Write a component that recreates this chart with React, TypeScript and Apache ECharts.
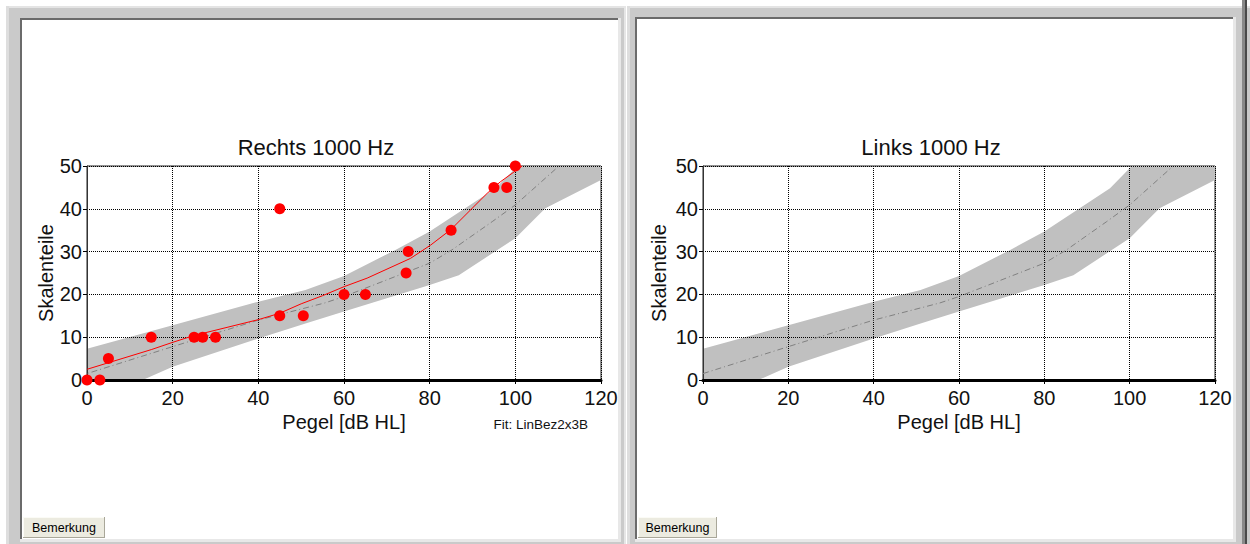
import React, { useEffect, useRef } from "react";
import * as echarts from "echarts";

// ---------- data ----------
const xMin = 0;
const xMax = 120;
const xStep = 20;
const yMin = 0;
const yMax = 50;
const yStep = 10;

// normal range band (grey), upper and lower edges
const bandUpperX = [0, 20, 40, 51, 60, 72, 80, 95.4, 100.5, 120];
const bandUpperY = [7.3, 12.8, 18.3, 21.0, 24.3, 30.4, 34.7, 44.8, 50, 50];
const bandLowerX = [0, 13, 20, 40, 51, 60, 80, 86.8, 100, 107, 120];
const bandLowerY = [0, 0, 3.1, 9.7, 13.2, 16.0, 22.2, 24.5, 33.1, 40.1, 46.7];

// reference (median) curve, grey dash-dot
const refX = [0, 20, 40, 55.5, 60, 80, 85.2, 94.6, 100, 110.2];
const refY = [1.5, 7.8, 14.0, 18.0, 19.5, 27.3, 30.4, 37.0, 40.9, 50];
const refLeftStartX = -4.7;
const refLeftStartY = -0.1;

// fitted curve (red) – right ear
const fitX = [0, 15, 20, 25, 40, 45, 50, 55, 60, 65.4, 75.5, 80.2, 85, 93.4, 96.5, 101.6];
const fitY = [2.5, 7.1, 8.8, 10.4, 14.1, 15.6, 17.8, 19.7, 21.8, 23.8, 28.4, 31.5, 35.2, 43.6, 46.3, 50];

// measured points – right ear
const ptsX = [0, 3, 5, 15, 25, 27, 30, 45, 45, 50.5, 60, 65, 74.5, 75, 85, 95, 98, 100];
const ptsY = [0, 0, 5, 10, 10, 10, 10, 40, 15, 15, 20, 20, 25, 30, 35, 45, 45, 50];

const titles = ["Rechts 1000 Hz", "Links 1000 Hz"];
const xName = "Pegel [dB HL]";
const yName = "Skalenteile";
const fitLabel = "Fit: LinBez2x3B";
const buttonLabel = "Bemerkung";

// ---------- helpers ----------
const FONT = '"Liberation Sans", Arial, sans-serif';
const TXT = "#111";
const zip = (xs: number[], ys: number[]) => xs.map((x, i) => [x, ys[i]]);

const bandRender = (_params: any, api: any) => {
  const pts: number[][] = [];
  for (let i = 0; i < bandUpperX.length; i++) pts.push(api.coord([bandUpperX[i], bandUpperY[i]]));
  for (let i = bandLowerX.length - 1; i >= 0; i--) pts.push(api.coord([bandLowerX[i], bandLowerY[i]]));
  return { type: "polygon", shape: { points: pts }, style: { fill: "#c0c0c0" } };
};

const xAxisFor = (gridIndex: number) => ({
  gridIndex,
  type: "value",
  min: xMin,
  max: xMax,
  interval: xStep,
  z: 2,
  axisLine: { show: true, onZero: false, lineStyle: { color: "#000", width: 3 } },
  axisTick: { show: true, length: 4, lineStyle: { color: "#000", width: 1 } },
  axisLabel: { color: TXT, fontSize: 20, fontFamily: FONT, margin: 8 },
  splitLine: { show: true, lineStyle: { color: "#000", width: 1, type: [1, 1] } },
  name: xName,
  nameLocation: "middle",
  nameGap: 42,
  nameTextStyle: { color: TXT, fontSize: 20, fontFamily: FONT, verticalAlign: "middle" },
});

const yAxisFor = (gridIndex: number, gap: number) => ({
  gridIndex,
  type: "value",
  min: yMin,
  max: yMax,
  interval: yStep,
  z: 2,
  axisLine: { show: true, onZero: false, lineStyle: { color: "#333", width: 1 } },
  axisTick: { show: true, length: 4, lineStyle: { color: "#000", width: 1 } },
  axisLabel: { color: TXT, fontSize: 20, fontFamily: FONT, margin: 5 },
  splitLine: { show: true, lineStyle: { color: "#000", width: 1, type: [1, 1] } },
  name: yName,
  nameLocation: "middle",
  nameGap: gap,
  nameTextStyle: { color: TXT, fontSize: 20, fontFamily: FONT, verticalAlign: "middle" },
});

const panel = (x0: number, wx: number, whiteX: number, whiteY: number, whiteW: number, whiteH: number) => [
  { type: "rect", z: -20, silent: true, shape: { x: x0, y: 6, width: wx, height: 538 }, style: { fill: "#cacaca" } },
  { type: "rect", z: -19, silent: true, shape: { x: x0, y: 6, width: wx, height: 2 }, style: { fill: "#e4e4e4" } },
  { type: "rect", z: -19, silent: true, shape: { x: x0, y: 6, width: 3, height: 538 }, style: { fill: "#dedede" } },
  { type: "rect", z: -18, silent: true, shape: { x: whiteX - 2, y: whiteY - 2, width: whiteW + 5, height: whiteH + 5 }, style: { fill: "#e8e8e8" } },
  { type: "rect", z: -17, silent: true, shape: { x: whiteX - 2, y: whiteY - 2, width: whiteW + 2, height: whiteH + 2 }, style: { fill: "#6b6b6b" } },
  { type: "rect", z: -16, silent: true, shape: { x: whiteX, y: whiteY, width: whiteW, height: whiteH }, style: { fill: "#ffffff" } },
];

const button = (x: number, w: number) => [
  { type: "rect", z: 10, shape: { x, y: 517, width: w, height: 21 }, style: { fill: "#a9a799" } },
  { type: "rect", z: 11, shape: { x, y: 517, width: w - 1, height: 20 }, style: { fill: "#fbfbf6" } },
  { type: "rect", z: 12, shape: { x: x + 1, y: 518, width: w - 2, height: 19 }, style: { fill: "#ecebe0" } },
  {
    type: "text",
    z: 13,
    x: x + w / 2,
    y: 528,
    style: { text: buttonLabel, fill: "#000", font: `12.5px ${FONT}`, textAlign: "center", textVerticalAlign: "middle" },
  },
];

export default function App() {
  const ref = useRef<HTMLDivElement>(null);

  useEffect(() => {
    if (!ref.current) return;
    const chart = echarts.init(ref.current, null, { renderer: "svg" });

    const option: any = {
      animation: false,
      backgroundColor: "#ffffff",
      grid: [
        { left: 87, top: 166, width: 514, height: 214, show: true, borderColor: "#222", borderWidth: 1, backgroundColor: "transparent", z: 1 },
        { left: 703, top: 166, width: 512, height: 214, show: true, borderColor: "#222", borderWidth: 1, backgroundColor: "transparent", z: 1 },
      ],
      xAxis: [xAxisFor(0), xAxisFor(1)],
      yAxis: [yAxisFor(0, 41), yAxisFor(1, 44)],
      series: [
        { type: "custom", xAxisIndex: 0, yAxisIndex: 0, renderItem: bandRender, data: [[0, 0]], z: 1, silent: true },
        {
          type: "line", xAxisIndex: 0, yAxisIndex: 0, z: 3, silent: true, clip: false,
          data: [[refLeftStartX, refLeftStartY], ...zip(refX, refY)],
          symbol: "none", lineStyle: { color: "#808080", width: 1, type: [6, 3, 1, 3] },
        },
        {
          type: "line", xAxisIndex: 0, yAxisIndex: 0, z: 4, silent: true, clip: false,
          data: zip(fitX, fitY), symbol: "none", lineStyle: { color: "#ff0000", width: 1 },
        },
        {
          type: "scatter", xAxisIndex: 0, yAxisIndex: 0, z: 5, silent: true, clip: false,
          data: zip(ptsX, ptsY), symbol: "circle", symbolSize: 11, itemStyle: { color: "#ff0000", opacity: 1 },
        },
        { type: "custom", xAxisIndex: 1, yAxisIndex: 1, renderItem: bandRender, data: [[0, 0]], z: 1, silent: true },
        {
          type: "line", xAxisIndex: 1, yAxisIndex: 1, z: 3, silent: true,
          data: zip(refX, refY), symbol: "none", lineStyle: { color: "#808080", width: 1, type: [6, 3, 1, 3] },
        },
      ],
      graphic: [
        ...panel(6, 620, 22, 20, 596, 519),
        ...panel(627, 623, 637, 19, 596, 520),
        { type: "rect", z: -15, silent: true, shape: { x: 1242, y: 0, width: 3, height: 544 }, style: { fill: "#8a8a8a" } },
        { type: "rect", z: -15, silent: true, shape: { x: 1245, y: 0, width: 2, height: 544 }, style: { fill: "#4a4a4a" } },
        { type: "rect", z: -15, silent: true, shape: { x: 624, y: 6, width: 2, height: 538 }, style: { fill: "#e6e6e6" } },
        {
          type: "text", z: 20, x: 316, y: 147,
          style: { text: titles[0], fill: TXT, font: `22px ${FONT}`, textAlign: "center", textVerticalAlign: "middle" },
        },
        {
          type: "text", z: 20, x: 931, y: 147,
          style: { text: titles[1], fill: TXT, font: `22px ${FONT}`, textAlign: "center", textVerticalAlign: "middle" },
        },
        {
          type: "text", z: 20, x: 588, y: 424,
          style: { text: fitLabel, fill: TXT, font: `13.5px ${FONT}`, textAlign: "right", textVerticalAlign: "middle" },
        },
        ...button(23, 82),
        ...button(638, 79),
      ],
    };

    chart.setOption(option);
    return () => chart.dispose();
  }, []);

  return (
    <div
      ref={ref}
      style={{ position: "fixed", left: 0, top: 0, width: 1250, height: 544, background: "#fff" }}
    />
  );
}
